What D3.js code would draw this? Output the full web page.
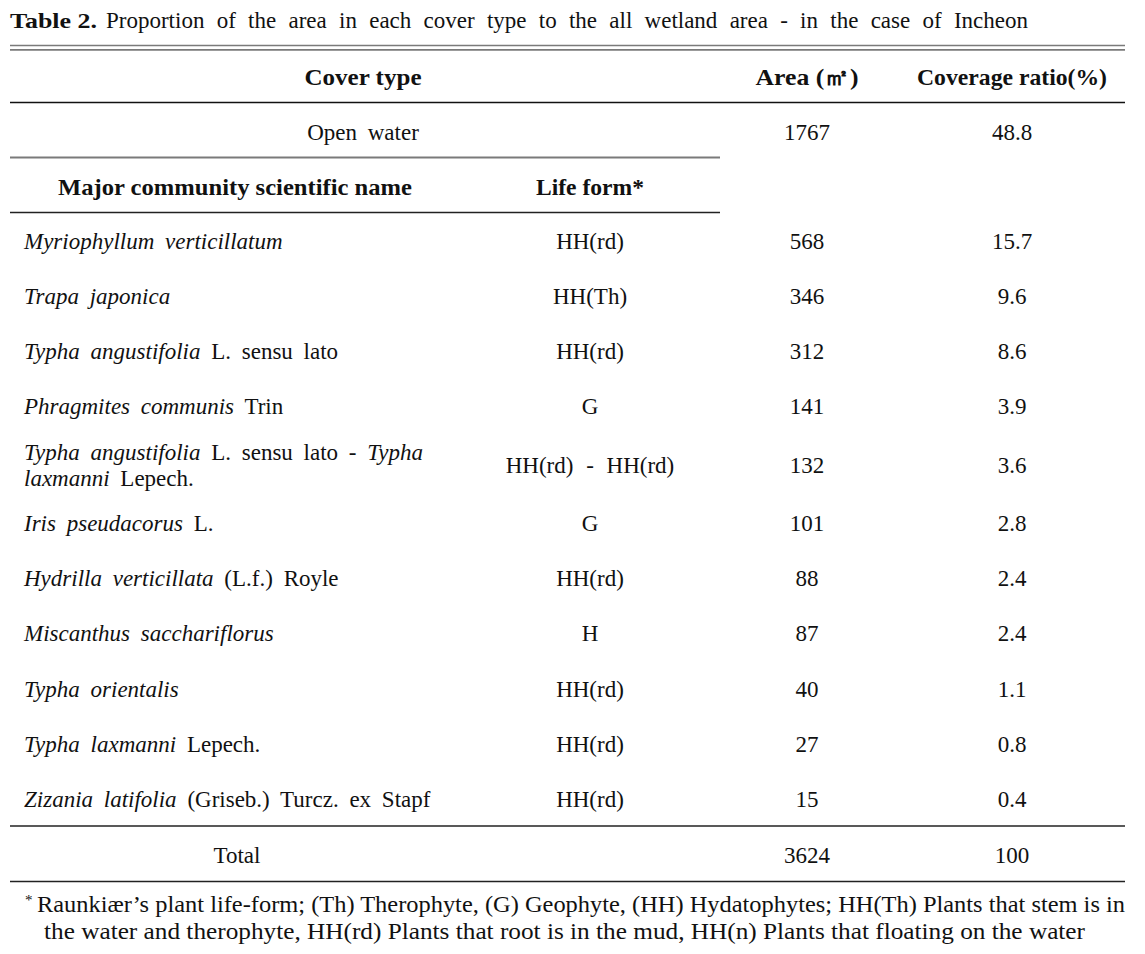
<!DOCTYPE html>
<html>
<head>
<meta charset="utf-8">
<script src="https://cdn.jsdelivr.net/npm/d3@7"></script>
<style>
  html, body { margin: 0; padding: 0; background: #fff; }
  svg { display: block; }
  text { font-family: "Liberation Serif", "Times New Roman", serif; fill: #111; }
</style>
</head>
<body>
<script>
// ---------------- data ----------------
const titleLabel = "Table 2.";
const titleText = "Proportion of the area in each cover type to the all wetland area - in the case of Incheon";
const mainHeaders = ["Cover type", "Area (㎡)", "Coverage ratio(%)"];
const subHeaders = ["Major community scientific name", "Life form*"];
const openWaterLabel = "Open water";
const openWaterArea = 1767;
const openWaterRatio = 48.8;
// "_" toggles italics, "|" is a line break
const names = [
  "_Myriophyllum verticillatum_",
  "_Trapa japonica_",
  "_Typha angustifolia_ L. sensu lato",
  "_Phragmites communis_ Trin",
  "_Typha angustifolia_ L. sensu lato - _Typha_|_laxmanni_ Lepech.",
  "_Iris pseudacorus_ L.",
  "_Hydrilla verticillata_ (L.f.) Royle",
  "_Miscanthus sacchariflorus_",
  "_Typha orientalis_",
  "_Typha laxmanni_ Lepech.",
  "_Zizania latifolia_ (Griseb.) Turcz. ex Stapf"
];
const lifeForms = ["HH(rd)", "HH(Th)", "HH(rd)", "G", "HH(rd) - HH(rd)", "G", "HH(rd)", "H", "HH(rd)", "HH(rd)", "HH(rd)"];
const areas = [568, 346, 312, 141, 132, 101, 88, 87, 40, 27, 15];
const ratios = [15.7, 9.6, 8.6, 3.9, 3.6, 2.8, 2.4, 2.4, 1.1, 0.8, 0.4];
const totalLabel = "Total";
const totalArea = 3624;
const totalRatio = 100;
const footnoteMark = "*";
const footnoteLines = [
  "Raunkiær’s plant life-form; (Th) Therophyte, (G) Geophyte, (HH) Hydatophytes; HH(Th) Plants that stem is in",
  "the water and therophyte, HH(rd) Plants that root is in the mud, HH(n) Plants that floating on the water"
];

// ---------------- layout ----------------
const W = 1145, H = 954;
const FS = 23;
const svg = d3.select("body").append("svg").attr("width", W).attr("height", H);

const X0 = 10, X1 = 1125, XSPLIT = 720;
const fmtRatio = v => (Number.isInteger(v) ? String(v) : v.toFixed(1));

// column centres
const colX = d3.scaleOrdinal()
  .domain(["name", "life", "area", "ratio", "cover"])
  .range([235, 590, 807, 1012, 363]);

// title
svg.append("text").attr("x", X0).attr("y", 28).style("font-size", "22px").style("font-weight", "bold")
  .attr("textLength", 87).attr("lengthAdjust", "spacingAndGlyphs").text(titleLabel);
const tt = svg.append("text").attr("x", 106).attr("y", 28).style("font-size", "23px").text(titleText);
{
  const natural = tt.node().getComputedTextLength();
  const spaces = titleText.split(" ").length - 1;
  const ws = Math.max(0, (922 - natural) / spaces);
  tt.style("word-spacing", ws + "px");
}

// rules
function hline(y, x1, x2, color, w) {
  svg.append("line").attr("x1", x1).attr("x2", x2).attr("y1", y).attr("y2", y)
    .attr("stroke", color).attr("stroke-width", w);
}
hline(45.5, X0, X1, "#7a7a7a", 1.7);
hline(49.8, X0, X1, "#7a7a7a", 1.7);
hline(102.5, X0, X1, "#111", 1.4);
hline(157.5, X0, XSPLIT, "#7a7a7a", 1.8);
hline(212.5, X0, XSPLIT, "#222", 1.4);
hline(826, X0, X1, "#222", 1.4);
hline(881.5, X0, X1, "#222", 1.4);

function boldText(str, x, y, width) {
  const t = svg.append("text").attr("x", x).attr("y", y).attr("text-anchor", "middle")
    .style("font-size", "23px").style("font-weight", "bold").text(str);
  if (width) t.attr("textLength", width).attr("lengthAdjust", "spacingAndGlyphs");
  return t;
}
// headers
boldText(mainHeaders[0], colX("cover"), 85, 117);
boldText(mainHeaders[1], colX("area"), 85, 103);
boldText(mainHeaders[2], colX("ratio"), 85, 190);
boldText(subHeaders[0], colX("name"), 195, 354);
boldText(subHeaders[1], colX("life"), 195, 108);

function plainText(str, x, y, anchor) {
  return svg.append("text").attr("x", x).attr("y", y).attr("text-anchor", anchor || "middle")
    .style("font-size", FS + "px").style("word-spacing", "5px").text(str);
}
// open water row
plainText(openWaterLabel, colX("cover"), 140);
plainText(String(openWaterArea), colX("area"), 140);
plainText(fmtRatio(openWaterRatio), colX("ratio"), 140);

// body rows
const rows = names.map((n, i) => ({
  lines: n.split("|"),
  life: lifeForms[i],
  area: areas[i],
  ratio: ratios[i]
}));
const extraPerLine = 0.115;
let cum = 0;
rows.forEach(r => { r.u0 = cum; r.units = 1 + extraPerLine * (r.lines.length - 1); cum += r.units; });
const yRow = d3.scaleLinear().domain([0, cum]).range([213, 826.5]);
const lineGap = 26;
const baseOff = 8;

const g = svg.append("g");
rows.forEach(r => {
  const cy = yRow(r.u0 + r.units / 2);
  const n = r.lines.length;
  r.lines.forEach((ln, k) => {
    const y = cy - (n - 1) * lineGap / 2 + k * lineGap + baseOff;
    const t = g.append("text").attr("x", 24).attr("y", y)
      .style("font-size", FS + "px").style("word-spacing", "5px");
    let italic = false;
    ln.split("_").forEach((seg, si) => {
      if (si > 0) italic = !italic;
      if (seg.length) t.append("tspan").text(seg).style("font-style", italic ? "italic" : "normal");
    });
  });
  plainText(r.life, colX("life"), cy + baseOff).style("word-spacing", "7px");
  plainText(String(r.area), colX("area"), cy + baseOff);
  plainText(fmtRatio(r.ratio), colX("ratio"), cy + baseOff);
});

// total
plainText(totalLabel, 237, 863);
plainText(String(totalArea), colX("area"), 863);
plainText(fmtRatio(totalRatio), colX("ratio"), 863);

// footnote
svg.append("text").attr("x", 25).attr("y", 905).style("font-size", "15px").text(footnoteMark);
svg.append("text").attr("x", 37).attr("y", 912).style("font-size", FS + "px")
  .attr("textLength", 1088).attr("lengthAdjust", "spacingAndGlyphs").text(footnoteLines[0]);
svg.append("text").attr("x", 44).attr("y", 939).style("font-size", FS + "px")
  .attr("textLength", 1041).attr("lengthAdjust", "spacingAndGlyphs").text(footnoteLines[1]);
</script>
</body>
</html>
